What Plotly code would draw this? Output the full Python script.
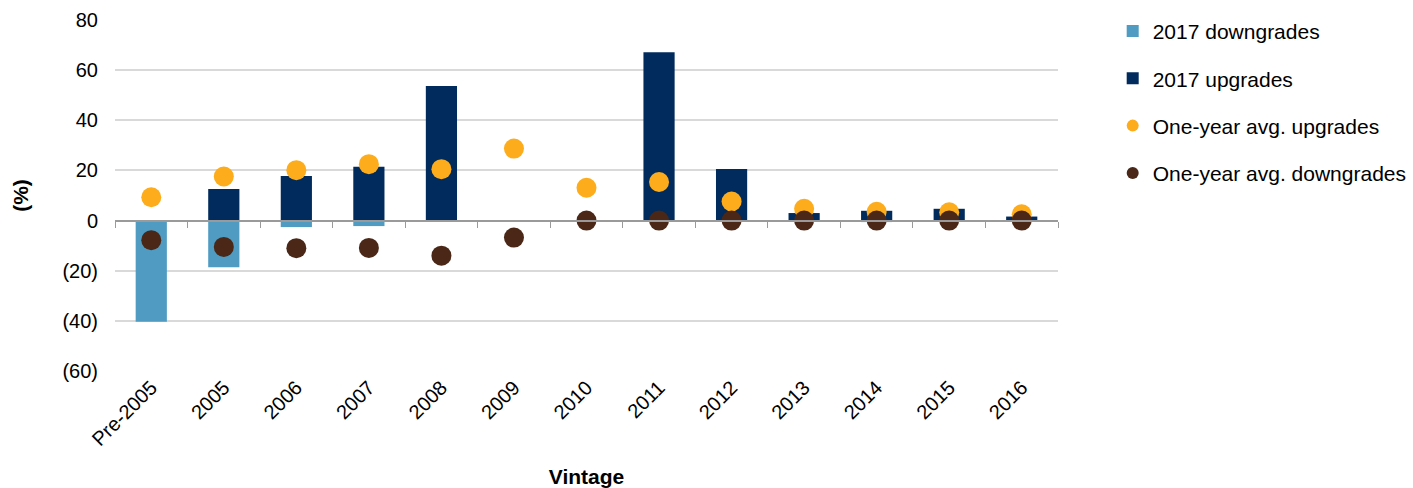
import plotly.graph_objects as go

categories = ["Pre-2005", "2005", "2006", "2007", "2008", "2009", "2010",
              "2011", "2012", "2013", "2014", "2015", "2016"]
downgrades_2017 = [-40.4, -18.6, -2.6, -2.2, 0, 0, 0, 0, 0, -0.3, -0.6, -0.3, 0]
upgrades_2017 = [0, 12.6, 17.8, 21.5, 53.7, 0, 0, 67.1, 20.6, 3.0, 3.9, 4.7, 1.6]
avg_upgrades = [9.3, 17.6, 20.1, 22.5, 20.5, 28.7, 13.1, 15.4, 7.6, 4.7, 3.5, 3.3, 2.5]
avg_downgrades = [-7.8, -10.5, -11.0, -10.9, -14.0, -6.8, 0, 0, 0, 0, 0, 0, 0]
ytick_vals = [-60, -40, -20, 0, 20, 40, 60, 80]
ytick_text = ["(60)", "(40)", "(20)", "0", "20", "40", "60", "80"]

FONT = "Liberation Sans, Arial, sans-serif"

fig = go.Figure()
fig.add_trace(go.Bar(x=categories, y=downgrades_2017, name="2017 downgrades",
                     marker=dict(color="#4F9BC2", line=dict(width=0)), width=0.43,
                     legendgroup="a"))
fig.add_trace(go.Bar(x=categories, y=upgrades_2017, name="2017 upgrades",
                     marker=dict(color="#002B5C", line=dict(width=0)), width=0.43,
                     legendgroup="b"))
fig.add_trace(go.Scatter(x=categories, y=avg_upgrades, mode="markers",
                         name="One-year avg. upgrades",
                         marker=dict(color="#FDAC1B", size=20), legendgroup="c"))
fig.add_trace(go.Scatter(x=categories, y=avg_downgrades, mode="markers",
                         name="One-year avg. downgrades",
                         marker=dict(color="#4A2716", size=20), legendgroup="d"))
# invisible trace to host the zero-line category axis
fig.add_trace(go.Scatter(x=categories, y=[0] * len(categories), xaxis="x2",
                         mode="markers", marker=dict(opacity=0), showlegend=False,
                         hoverinfo="skip"))

xr = [-0.5, len(categories) - 0.5]
fig.update_layout(
    width=1413, height=488,
    margin=dict(l=115, r=355, t=20, b=117, autoexpand=False),
    paper_bgcolor="white", plot_bgcolor="white",
    barmode="relative",
    font=dict(family=FONT, size=20, color="#000000"),
    showlegend=True,
    legend=dict(x=1.058, y=1.026, xanchor="left", yanchor="top",
                font=dict(size=21, color="#000000"), itemsizing="constant",
                traceorder="grouped", tracegroupgap=17, itemwidth=30),
    xaxis=dict(type="category", range=xr, showgrid=False, showline=False, ticks="",
               tickangle=-45, tickfont=dict(size=20), automargin=False,
               title=dict(text="<b>Vintage</b>", font=dict(size=21), standoff=22)),
    xaxis2=dict(type="category", range=xr, overlaying="x", anchor="free",
                position=60 / 140, showline=True, linecolor="#9a9a9a", linewidth=2,
                ticks="outside", tickson="boundaries", ticklen=6, tickcolor="#9a9a9a",
                showticklabels=False, showgrid=False, side="bottom"),
    yaxis=dict(range=[-60, 80], tickvals=ytick_vals, ticktext=ytick_text,
               showgrid=True, gridcolor="#d9d9d9", gridwidth=1.5, zeroline=False,
               ticks="", tickfont=dict(size=20), ticklabelstandoff=16, automargin=False,
               title=dict(text="<b>(%)</b>", font=dict(size=21), standoff=28)),
)

fig.write_html("out.html")
